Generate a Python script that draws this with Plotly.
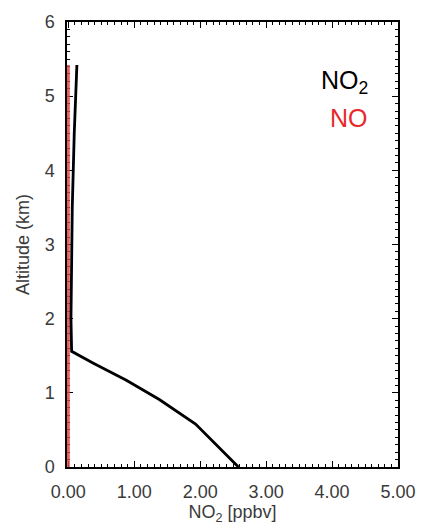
import plotly.graph_objects as go

alt_no2 = [0.0, 0.58, 0.91, 1.17, 1.40, 1.56, 2.0, 3.5, 4.5, 5.0, 5.42]
no2 = [2.58, 1.93, 1.38, 0.88, 0.38, 0.05, 0.04, 0.06, 0.09, 0.11, 0.13]
alt_no = [0.0, 5.42]
no = [0.0, 0.0]

x_ticks = [0, 1, 2, 3, 4, 5]
x_labels = ["0.00", "1.00", "2.00", "3.00", "4.00", "5.00"]
y_ticks = [0, 1, 2, 3, 4, 5, 6]

fig = go.Figure()
fig.add_trace(go.Scatter(x=no, y=alt_no, mode="lines",
                         line=dict(color="rgba(225,70,70,0.85)", width=3), showlegend=False))
fig.add_trace(go.Scatter(x=no2, y=alt_no2, mode="lines",
                         line=dict(color="black", width=2.8), showlegend=False))

fam = "Liberation Sans, Arial, sans-serif"
font = dict(family=fam, size=18, color="#3a3a3a")
axis_common = dict(showgrid=False, zeroline=False, showline=True, linecolor="black",
                   linewidth=1.5, mirror="allticks", ticks="inside", ticklen=6,
                   tickwidth=1.2, tickcolor="black", layer="below traces",
                   minor=dict(ticks="inside", ticklen=3, tickcolor="black", dtick=0.1))
fig.update_xaxes(range=[-0.02, 5], tickvals=x_ticks, ticktext=x_labels,
                 ticklabelstandoff=8,
                 title=dict(text="NO<sub>2</sub> [ppbv]", standoff=3, font=font),
                 tickfont=font, **axis_common)
fig.update_yaxes(range=[0, 6], tickvals=y_ticks, ticklabelstandoff=7,
                 title=dict(text="Altitude (km)", standoff=10, font=font),
                 tickfont=font, **axis_common)

fig.add_annotation(x=0.915, y=0.905, xref="paper", yref="paper", text="NO<sub>2</sub>",
                   showarrow=False, xanchor="right", font=dict(family=fam, size=25, color="black"))
fig.add_annotation(x=0.915, y=0.82, xref="paper", yref="paper", text="NO",
                   showarrow=False, xanchor="right", font=dict(family=fam, size=25, color="#e8292b"))

fig.update_layout(width=428, height=531, margin=dict(l=67, r=27, t=14, b=64),
                  plot_bgcolor="white", paper_bgcolor="white")
fig.write_html("out.html")
